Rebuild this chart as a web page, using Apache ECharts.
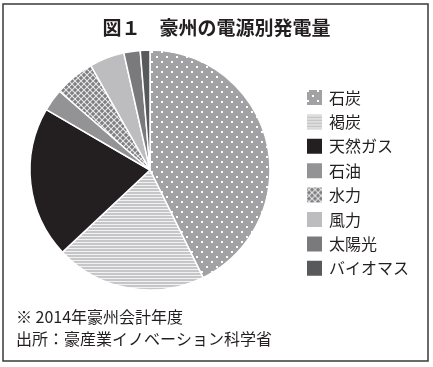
<!DOCTYPE html>
<html><head><meta charset="utf-8">
<script src="https://cdn.jsdelivr.net/npm/echarts@6/dist/echarts.min.js"></script>
<style>html,body{margin:0;padding:0;background:#fff}#c{width:433px;height:367px}</style>
</head><body><div id="c"></div>
<script>
const categories = ['石炭','褐炭','天然ガス','石油','水力','風力','太陽光','バイオマス'];
const values = [42.7, 20.3, 20.4, 3.0, 5.4, 4.7, 2.2, 1.3];
const titleText = '図１　豪州の電源別発電量';
const notes = ['※ 2014年豪州会計年度', '出所：豪産業イノベーション科学省'];

function tile(w, h, draw) {
  const c = document.createElement('canvas');
  c.width = w; c.height = h;
  const g = c.getContext('2d');
  draw(g, w, h);
  return { image: c, repeat: 'repeat' };
}
const coalPat = tile(10, 10, (g) => {
  g.fillStyle = '#a2a2a4'; g.fillRect(0, 0, 10, 10);
  g.fillStyle = '#ffffff';
  g.fillRect(1, 1, 2, 2); g.fillRect(6, 6, 2, 2);
});
const brownPat = tile(4, 3, (g) => {
  g.fillStyle = '#c6c6c8'; g.fillRect(0, 0, 4, 3);
  g.fillStyle = '#f2f2f2'; g.fillRect(0, 2, 4, 1);
});
const hydroPat = tile(6, 6, (g) => {
  g.fillStyle = '#7e7e80'; g.fillRect(0, 0, 6, 6);
  g.strokeStyle = '#e8e8e8'; g.lineWidth = 1.1;
  g.beginPath(); g.moveTo(0, 0); g.lineTo(6, 6); g.moveTo(0, 6); g.lineTo(6, 0); g.stroke();
});
const colors = [coalPat, brownPat, '#231f20', '#939395', hydroPat, '#bdbdbf', '#7a7a7c', '#58595b'];

const chart = echarts.init(document.getElementById('c'), null, { renderer: 'canvas' });
chart.setOption({
  animation: false,
  title: {
    text: titleText, left: 'center', top: 13,
    textStyle: { fontFamily: 'Noto Sans CJK JP', fontSize: 19, fontWeight: 'bold', color: '#231f20' }
  },
  legend: {
    orient: 'vertical', left: 305, top: 88, padding: 0,
    itemWidth: 17, itemHeight: 17, itemGap: 5.4, icon: 'rect',
    textStyle: { fontFamily: 'Noto Sans CJK JP', fontSize: 16, color: '#231f20', padding: [0, 0, 0, 1] },
    data: categories
  },
  graphic: [
    { type: 'rect', shape: { x: 3, y: 4, width: 425, height: 357 }, style: { fill: 'none', stroke: '#3a3a3a', lineWidth: 1.5 }, z: 100 },
    { type: 'text', left: 16, top: 309, style: { text: notes[0], font: '16px "Noto Sans CJK JP"', fill: '#231f20' } },
    { type: 'text', left: 16, top: 331, style: { text: notes[1], font: '16px "Noto Sans CJK JP"', fill: '#231f20' } }
  ],
  series: [{
    type: 'pie', center: [150, 170], radius: 120, startAngle: 90, clockwise: true,
    label: { show: false }, labelLine: { show: false },
    itemStyle: { borderColor: '#ffffff', borderWidth: 1.5 },
    emphasis: { disabled: true },
    data: categories.map((n, i) => ({ name: n, value: values[i], itemStyle: { color: colors[i] } }))
  }]
});
</script></body></html>
